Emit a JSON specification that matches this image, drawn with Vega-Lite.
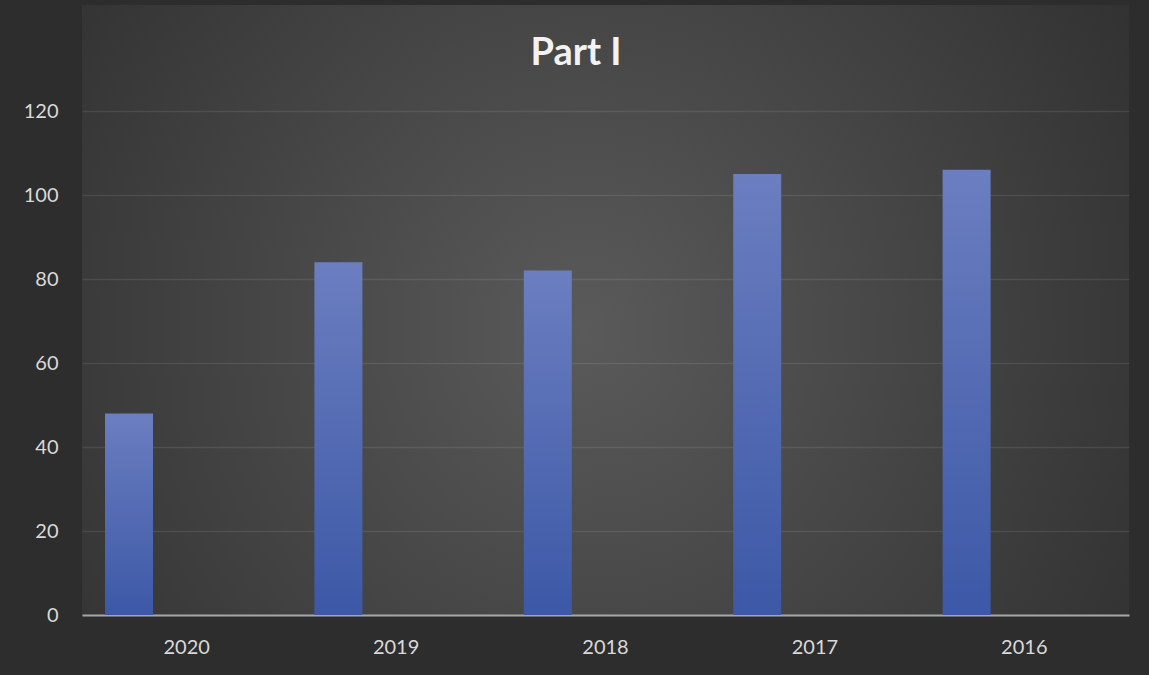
{
  "$schema": "https://vega.github.io/schema/vega-lite/v6.json",
  "autosize": {"type": "none"},
  "width": 1047,
  "height": 610,
  "padding": {"left": 82, "top": 5, "right": 20, "bottom": 60},
  "background": "#2d2d2d",
  "title": {
    "text": "Part I",
    "anchor": "middle",
    "frame": "bounds",
    "font": "Lato",
    "fontSize": 38,
    "fontWeight": "bold",
    "color": "#f2f2f2",
    "baseline": "alphabetic",
    "offset": -62,
    "dy": 36
  },
  "data": {
    "values": [
      {"year": "2020", "series": "Series1", "value": 48},
      {"year": "2019", "series": "Series1", "value": 84},
      {"year": "2018", "series": "Series1", "value": 82},
      {"year": "2017", "series": "Series1", "value": 105},
      {"year": "2016", "series": "Series1", "value": 106}
    ]
  },
  "mark": {
    "type": "bar",
    "color": {
      "gradient": "linear",
      "x1": 0, "y1": 0, "x2": 0, "y2": 1,
      "stops": [
        {"offset": 0, "color": "#6b7ec0"},
        {"offset": 1, "color": "#3c58a6"}
      ]
    }
  },
  "encoding": {
    "x": {
      "field": "year",
      "type": "nominal",
      "sort": null,
      "scale": {"paddingInner": 0, "paddingOuter": 0},
      "axis": {
        "title": null,
        "labelAngle": 0,
        "labelFont": "Lato",
        "labelFontSize": 20,
        "labelColor": "#d9d9d9",
        "labelPadding": 22,
        "ticks": false,
        "domainColor": "#a6a6a6",
        "domainWidth": 2,
        "grid": false
      }
    },
    "xOffset": {
      "field": "series",
      "type": "nominal",
      "scale": {"domain": ["Series1", "Series2", "Series3"], "paddingInner": 0.168, "paddingOuter": 0.399}
    },
    "y": {
      "field": "value",
      "type": "quantitative",
      "scale": {"domain": [0, 145.24], "nice": false},
      "axis": {
        "title": null,
        "values": [0, 20, 40, 60, 80, 100, 120],
        "labelFont": "Lato",
        "labelFontSize": 20,
        "labelColor": "#d9d9d9",
        "labelPadding": 24,
        "ticks": false,
        "domain": false,
        "gridColor": "#ffffff",
        "gridOpacity": 0.09,
        "gridWidth": 1.5
      }
    }
  },
  "config": {
    "view": {
      "stroke": null,
      "fill": {
        "gradient": "radial",
        "x1": 0.48, "y1": 0.52, "r1": 0,
        "x2": 0.48, "y2": 0.52, "r2": 0.68,
        "stops": [
          {"offset": 0, "color": "#5a5a5a"},
          {"offset": 1, "color": "#2d2d2d"}
        ]
      }
    }
  }
}
